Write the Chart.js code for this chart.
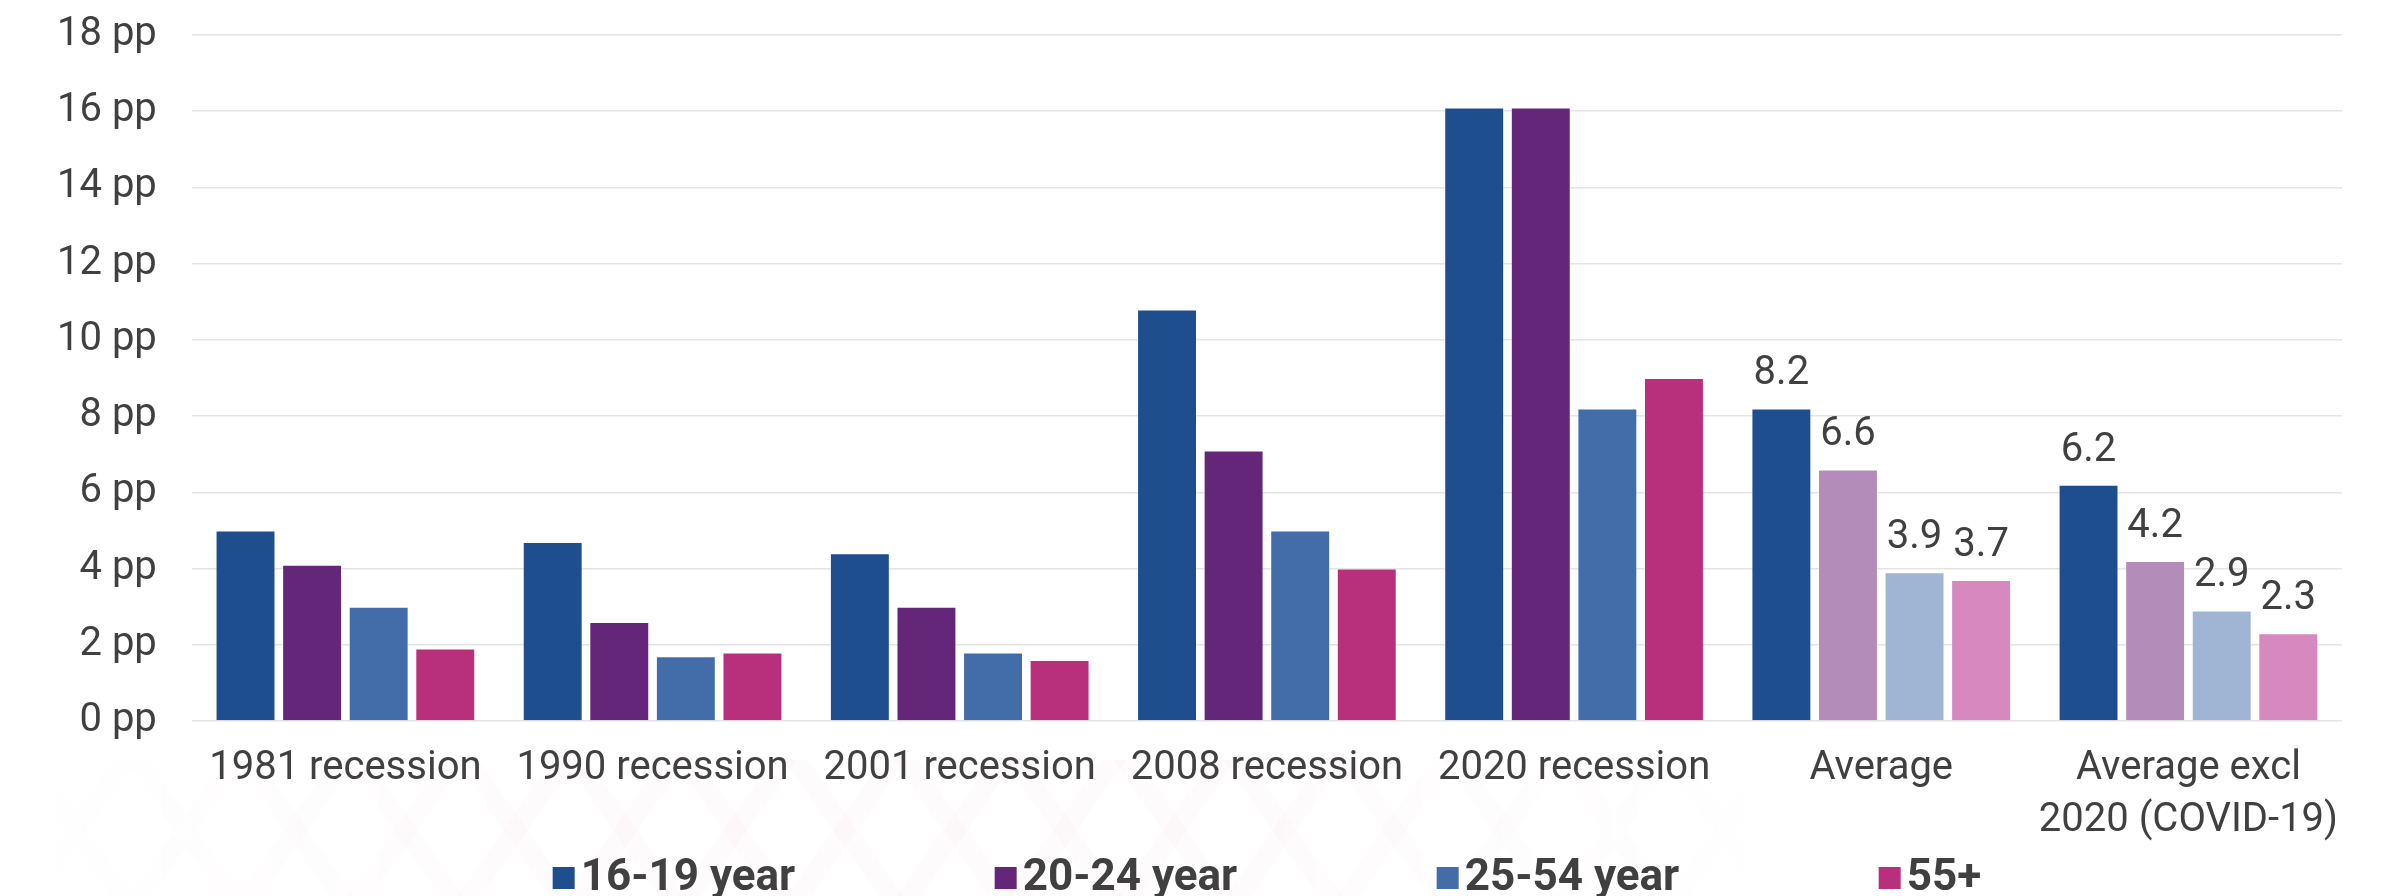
<!DOCTYPE html>
<html>
<head>
<meta charset="utf-8">
<script src="https://cdn.jsdelivr.net/npm/chart.js@4/dist/chart.umd.min.js"></script>
<style>
  html, body { margin: 0; padding: 0; background: #ffffff; }
  #wrap { position: relative; width: 2392px; height: 896px; overflow: hidden; }
  /* faint chevron watermark along the bottom */
  #wm {
    position: absolute; left: 0; top: 760px; width: 1800px; height: 136px;
    background:
      repeating-linear-gradient(55deg, rgba(200,60,130,0.018) 0 20px, transparent 20px 90px),
      repeating-linear-gradient(-55deg, rgba(200,60,130,0.018) 0 20px, transparent 20px 90px);
    -webkit-mask-image: linear-gradient(to right, transparent 0, #000 30%, #000 70%, transparent 100%);
            mask-image: linear-gradient(to right, transparent 0, #000 30%, #000 70%, transparent 100%);
  }
  canvas { position: relative; }
</style>
</head>
<body>
<div id="wrap">
  <div id="wm"></div>
  <canvas id="chart" width="2392" height="896"></canvas>
</div>
<script>
// Categories along the x axis
const categories = [
  '1981 recession',
  '1990 recession',
  '2001 recession',
  '2008 recession',
  '2020 recession',
  'Average',
  ['Average excl', '2020 (COVID-19)']
];

// Which categories are summary averages (lighter bars, value labels shown)
const isAverage = [false, false, false, false, false, true, true];

// Rise in unemployment rate, percentage points, by age group
const seriesNames = ['16-19 year', '20-24 year', '25-54 year', '55+'];
const age16to19 = [5.0, 4.7, 4.4, 10.8, 16.1, 8.2, 6.2];
const age20to24 = [4.1, 2.6, 3.0, 7.1, 16.1, 6.6, 4.2];
const age25to54 = [3.0, 1.7, 1.8, 5.0, 8.2, 3.9, 2.9];
const age55plus = [1.9, 1.8, 1.6, 4.0, 9.0, 3.7, 2.3];

// Y axis tick values
const yTicks = [0, 2, 4, 6, 8, 10, 12, 14, 16, 18];

const baseColors = ['#1F4E8F', '#632678', '#436DA8', '#B8307B'];
const avgColors  = ['#1F4E8F', '#B48CBA', '#A0B4D4', '#D688BF'];
const textColor = '#404040';
const fontFamily = 'Roboto, "DejaVu Sans", sans-serif';

const seriesValues = [age16to19, age20to24, age25to54, age55plus];

const datasets = seriesValues.map((vals, s) => ({
  label: seriesNames[s],
  data: vals,
  backgroundColor: vals.map((_, i) => isAverage[i] ? avgColors[s] : baseColors[s]),
  borderColor: 'rgba(255,255,255,0.35)',
  borderWidth: 1,
  categoryPercentage: 0.867,
  barPercentage: 0.9
}));

// Value labels above the bars of the average categories
const valueLabels = {
  id: 'valueLabels',
  afterDatasetsDraw(chart) {
    const ctx = chart.ctx;
    ctx.save();
    ctx.font = '40px ' + fontFamily;
    ctx.fillStyle = textColor;
    ctx.textAlign = 'center';
    ctx.textBaseline = 'alphabetic';
    chart.data.datasets.forEach((ds, s) => {
      const meta = chart.getDatasetMeta(s);
      meta.data.forEach((bar, i) => {
        if (!isAverage[i]) return;
        ctx.fillText(ds.data[i].toFixed(1), bar.x, bar.y - 24);
      });
    });
    ctx.restore();
  }
};

// Legend row with evenly spaced entries under the axis labels
const spacedLegend = {
  id: 'spacedLegend',
  afterDraw(chart) {
    const ctx = chart.ctx;
    const area = chart.chartArea;
    const pitch = 442, box = 22, gap = 28;
    const cy = 878;
    ctx.save();
    ctx.font = 'bold 44px ' + fontFamily;
    ctx.textBaseline = 'middle';
    ctx.textAlign = 'left';
    const ds = chart.data.datasets;
    const lastW = ctx.measureText(ds[ds.length - 1].label).width;
    const total = pitch * (ds.length - 1) + gap + lastW;
    const x0 = (area.left + area.right) / 2 - total / 2;
    ds.forEach((d, s) => {
      const x = x0 + s * pitch;
      ctx.fillStyle = baseColors[s];
      ctx.fillRect(x, cy - box / 2, box, box);
      ctx.fillStyle = textColor;
      ctx.fillText(d.label, x + gap, cy + 1);
    });
    ctx.restore();
  }
};

new Chart(document.getElementById('chart'), {
  type: 'bar',
  data: { labels: categories, datasets },
  plugins: [valueLabels, spacedLegend],
  options: {
    responsive: false,
    animation: false,
    layout: { padding: { left: 22, right: 50, top: 35, bottom: 35 } },
    plugins: {
      legend: { display: false },
      tooltip: { enabled: false }
    },
    scales: {
      x: {
        grid: { display: false },
        border: { display: false },
        ticks: {
          color: textColor,
          font: { family: fontFamily, size: 40, lineHeight: 1.3 },
          padding: 14,
          maxRotation: 0,
          autoSkip: false
        }
      },
      y: {
        min: yTicks[0],
        max: yTicks[yTicks.length - 1],
        afterBuildTicks(axis) { axis.ticks = yTicks.map(v => ({ value: v })); },
        afterFit(axis) { axis.paddingTop = 0; },
        grid: { color: '#e4e4e4', lineWidth: 1.5, drawTicks: false },
        border: { display: false },
        ticks: {
          color: textColor,
          font: { family: fontFamily, size: 40, lineHeight: 1.0 },
          padding: 35,
          callback: v => v + ' pp'
        }
      }
    }
  }
});
</script>
</body>
</html>
